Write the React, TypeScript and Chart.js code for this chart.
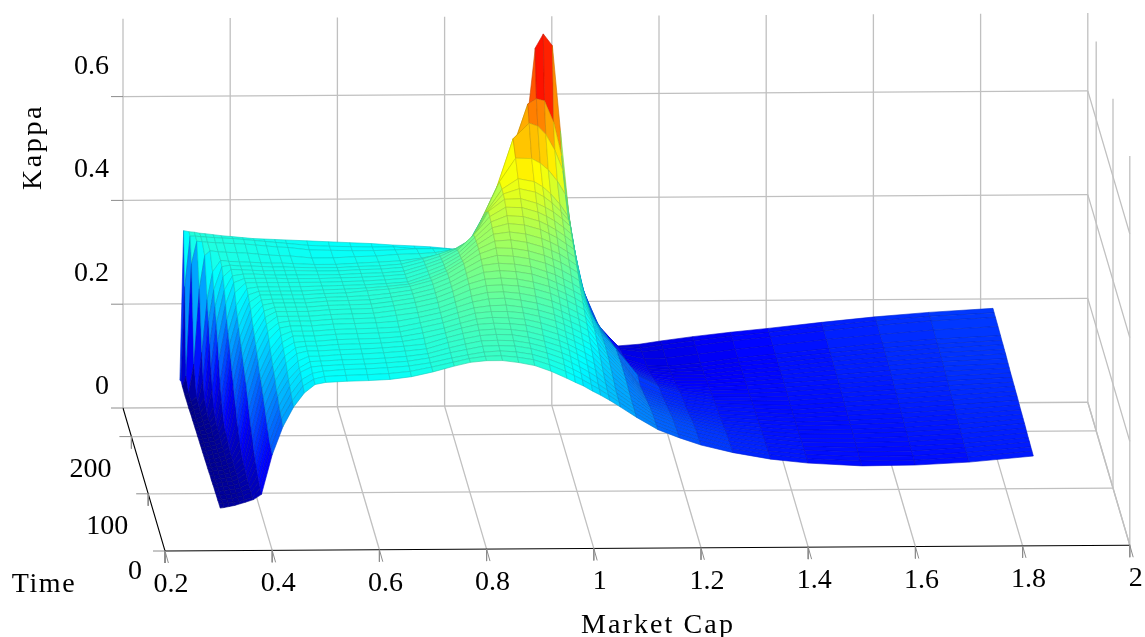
import React, { useEffect, useRef } from "react";
import { Chart, registerables } from "chart.js";

Chart.register(...registerables);

const marketCap = [0.303,0.31,0.32,0.33,0.34,0.35,0.365,0.38,0.4,0.42,0.44,0.46,0.48,0.5,0.54,0.58,0.62,0.66,0.7,0.74,0.77,0.8,0.83,0.86,0.89,0.92,0.95,0.966,0.981,0.998,1.013,1.03,1.05,1.08,1.12,1.16,1.2,1.26,1.33,1.4,1.5,1.6,1.7,1.82];
const timeRows = [0,7.5,15,22.5,30,37.5,45,52.5,60,67.5,75,82.5,90,97.5,105,112.5,120,127.5,135,142.5,150,157.5,165,172.5,180,187.5,195,210,225,233,240];

const kappaT0 = [.082,.083,.085,.087,.090,.093,.098,.108,.184,.238,.276,.303,.319,.323,.325,.326,.328,.333,.342,.353,.360,.363,.363,.359,.353,.342,.328,.320,.313,.303,.295,.285,.272,.252,.228,.212,.198,.183,.170,.162,.156,.157,.162,.173];
const kappaT7 = [.082,.083,.084,.085,.086,.089,.094,.112,.189,.245,.280,.308,.321,.326,.328,.329,.331,.335,.343,.352,.359,.363,.364,.361,.356,.346,.333,.325,.317,.307,.298,.287,.273,.252,.227,.211,.198,.182,.170,.162,.157,.158,.163,.174];
const kappaT15 = [.081,.082,.083,.084,.086,.089,.095,.116,.192,.248,.285,.312,.324,.328,.331,.332,.334,.337,.343,.352,.358,.363,.365,.363,.358,.349,.337,.329,.321,.310,.300,.288,.273,.252,.226,.210,.197,.181,.169,.162,.157,.158,.164,.174];
const kappaT22 = [.081,.082,.083,.084,.085,.089,.094,.120,.200,.253,.291,.318,.328,.330,.332,.333,.335,.338,.344,.354,.360,.366,.367,.366,.361,.352,.341,.333,.325,.315,.305,.291,.274,.252,.225,.209,.196,.180,.169,.162,.158,.159,.165,.175];
const kappaT30 = [.080,.081,.083,.084,.085,.088,.095,.128,.208,.263,.296,.318,.330,.331,.333,.334,.336,.339,.344,.355,.362,.368,.369,.368,.363,.355,.344,.337,.329,.319,.310,.293,.275,.252,.224,.208,.195,.179,.168,.161,.158,.160,.165,.175];
const kappaT37 = [.080,.081,.082,.083,.085,.088,.097,.135,.218,.266,.303,.323,.332,.332,.335,.336,.338,.341,.345,.357,.364,.370,.372,.371,.366,.358,.348,.341,.333,.323,.314,.297,.278,.253,.222,.206,.193,.178,.168,.161,.159,.161,.166,.176];
const kappaT45 = [.079,.080,.082,.083,.084,.088,.099,.143,.227,.277,.311,.329,.334,.334,.336,.337,.339,.342,.346,.358,.366,.372,.374,.373,.369,.361,.351,.344,.336,.327,.318,.300,.280,.253,.220,.204,.191,.176,.167,.160,.159,.162,.167,.177];
const kappaT52 = [.078,.079,.081,.082,.084,.088,.101,.155,.237,.284,.316,.332,.335,.335,.338,.339,.340,.343,.349,.359,.368,.375,.377,.376,.373,.365,.355,.348,.341,.332,.323,.304,.283,.254,.217,.201,.188,.174,.166,.160,.160,.163,.168,.178];
const kappaT60 = [.078,.079,.080,.082,.084,.088,.103,.165,.246,.290,.322,.334,.336,.336,.339,.340,.341,.344,.351,.360,.369,.377,.380,.379,.376,.369,.359,.352,.345,.336,.327,.307,.285,.255,.214,.198,.185,.172,.165,.159,.160,.163,.169,.178];
const kappaT67 = [.077,.079,.080,.081,.084,.088,.106,.176,.254,.298,.326,.338,.338,.338,.341,.342,.343,.345,.353,.362,.371,.380,.383,.383,.380,.373,.364,.357,.350,.341,.332,.311,.287,.255,.211,.195,.182,.170,.164,.159,.161,.164,.170,.179];
const kappaT75 = [.076,.078,.079,.080,.083,.088,.113,.189,.260,.305,.331,.339,.339,.339,.342,.343,.344,.346,.354,.363,.373,.382,.386,.387,.383,.377,.368,.361,.354,.346,.337,.314,.288,.255,.208,.192,.179,.168,.163,.158,.161,.165,.171,.179];
const kappaT82 = [.076,.077,.079,.080,.084,.089,.121,.203,.272,.315,.337,.341,.341,.341,.344,.345,.346,.349,.356,.365,.375,.385,.391,.392,.388,.382,.373,.366,.359,.351,.342,.318,.289,.255,.205,.189,.176,.166,.162,.158,.162,.166,.172,.180];
const kappaT90 = [.075,.077,.078,.080,.083,.090,.134,.218,.281,.322,.339,.342,.342,.342,.345,.346,.347,.352,.357,.366,.377,.388,.395,.396,.393,.387,.378,.371,.364,.355,.346,.322,.290,.255,.202,.186,.174,.165,.161,.157,.162,.167,.173,.181];
const kappaT97 = [.075,.076,.078,.080,.084,.092,.144,.228,.289,.328,.343,.343,.343,.343,.346,.347,.348,.353,.359,.368,.379,.392,.400,.401,.399,.393,.384,.377,.370,.361,.352,.322,.289,.254,.199,.183,.172,.164,.160,.157,.163,.168,.174,.182];
const kappaT105 = [.074,.076,.078,.079,.084,.096,.160,.239,.298,.333,.344,.344,.344,.344,.347,.348,.349,.354,.360,.369,.381,.395,.404,.406,.404,.398,.389,.382,.375,.366,.357,.322,.288,.252,.196,.180,.170,.162,.159,.157,.163,.169,.175,.182];
const kappaT112 = [.074,.075,.077,.079,.084,.098,.171,.249,.306,.337,.344,.344,.344,.344,.347,.348,.349,.354,.360,.370,.382,.397,.409,.412,.410,.405,.395,.388,.381,.372,.363,.322,.287,.251,.198,.179,.168,.160,.158,.158,.164,.170,.176,.183];
const kappaT120 = [.073,.075,.077,.079,.084,.099,.190,.260,.314,.340,.344,.344,.344,.344,.347,.348,.349,.354,.360,.370,.382,.399,.414,.418,.416,.411,.401,.395,.387,.378,.368,.322,.285,.250,.200,.178,.166,.158,.157,.158,.164,.170,.177,.183];
const kappaT127 = [.073,.074,.077,.079,.086,.106,.205,.270,.323,.342,.343,.343,.343,.343,.346,.347,.349,.353,.359,.370,.382,.400,.417,.425,.423,.418,.409,.402,.395,.385,.375,.319,.282,.244,.194,.173,.162,.156,.156,.159,.165,.171,.178,.184];
const kappaT135 = [.072,.074,.076,.079,.087,.118,.221,.281,.329,.343,.343,.343,.343,.343,.345,.346,.350,.353,.358,.369,.382,.401,.420,.431,.430,.425,.416,.409,.402,.392,.382,.315,.278,.238,.188,.168,.158,.154,.155,.159,.165,.172,.179,.184];
const kappaT142 = [.072,.074,.076,.080,.090,.136,.239,.293,.335,.342,.342,.342,.342,.342,.344,.345,.347,.350,.354,.366,.379,.398,.421,.436,.438,.433,.424,.417,.410,.399,.388,.312,.274,.234,.183,.164,.155,.152,.155,.159,.166,.173,.180,.185];
const kappaT150 = [.071,.073,.076,.081,.095,.158,.255,.306,.339,.342,.342,.342,.342,.342,.343,.344,.345,.347,.350,.364,.376,.395,.421,.441,.445,.441,.432,.425,.417,.406,.395,.310,.270,.230,.178,.160,.152,.150,.154,.159,.166,.174,.181,.186];
const kappaT157 = [.071,.073,.075,.081,.103,.193,.271,.323,.342,.342,.342,.342,.342,.342,.342,.343,.344,.346,.349,.362,.374,.392,.420,.445,.453,.450,.441,.433,.425,.413,.402,.312,.266,.225,.173,.155,.149,.148,.153,.158,.167,.175,.182,.187];
const kappaT165 = [.070,.073,.075,.084,.130,.220,.293,.334,.342,.342,.342,.342,.341,.341,.341,.342,.343,.345,.348,.361,.372,.389,.418,.448,.460,.458,.449,.441,.432,.420,.408,.315,.262,.220,.168,.151,.146,.146,.152,.158,.167,.175,.182,.188];
const kappaT172 = [.070,.072,.076,.089,.162,.247,.312,.339,.342,.342,.341,.340,.340,.340,.340,.340,.342,.343,.346,.358,.369,.386,.415,.450,.468,.467,.458,.450,.441,.428,.415,.317,.258,.215,.163,.147,.143,.144,.151,.157,.167,.175,.183,.188];
const kappaT180 = [.069,.072,.077,.096,.200,.272,.329,.343,.342,.341,.340,.340,.340,.340,.339,.339,.341,.342,.345,.356,.366,.380,.400,.452,.475,.476,.467,.459,.450,.436,.422,.320,.255,.210,.158,.143,.140,.143,.151,.157,.167,.176,.183,.189];
const kappaT187 = [.068,.071,.079,.123,.236,.296,.340,.343,.341,.341,.340,.339,.339,.338,.337,.337,.339,.340,.343,.353,.362,.372,.390,.443,.477,.487,.480,.471,.459,.442,.424,.325,.252,.202,.154,.139,.137,.142,.150,.157,.167,.176,.183,.189];
const kappaT195 = [.068,.072,.081,.167,.269,.322,.344,.342,.341,.340,.339,.338,.338,.337,.335,.335,.337,.339,.341,.346,.352,.360,.378,.434,.478,.498,.492,.482,.468,.448,.425,.330,.250,.195,.150,.136,.135,.141,.150,.157,.167,.177,.184,.190];
const kappaT210 = [.067,.072,.128,.273,.337,.346,.344,.343,.342,.341,.339,.337,.336,.335,.331,.331,.333,.334,.337,.338,.340,.345,.352,.410,.476,.521,.520,.511,.498,.476,.450,.340,.250,.185,.142,.133,.134,.141,.150,.157,.168,.177,.185,.191];
const kappaT225 = [.068,.088,.305,.348,.347,.346,.345,.344,.343,.342,.340,.338,.336,.335,.330,.329,.328,.328,.329,.331,.331,.330,.330,.385,.450,.542,.572,.566,.550,.519,.480,.350,.250,.180,.135,.130,.134,.141,.150,.157,.168,.178,.186,.192];
const kappaT233 = [.070,.252,.349,.349,.348,.347,.346,.345,.344,.342,.340,.338,.336,.334,.330,.328,.327,.326,.326,.322,.320,.318,.318,.365,.425,.510,.600,.610,.606,.565,.500,.355,.250,.170,.130,.128,.134,.142,.150,.157,.168,.178,.186,.192];
const kappaT240 = [.064,.352,.350,.349,.347,.346,.344,.342,.340,.338,.336,.335,.334,.333,.331,.329,.327,.325,.322,.320,.318,.315,.310,.345,.400,.470,.550,.700,.727,.704,.540,.367,.250,.165,.125,.128,.134,.142,.150,.157,.168,.178,.186,.193];

const kappaGrid = [kappaT0,kappaT7,kappaT15,kappaT22,kappaT30,kappaT37,kappaT45,kappaT52,kappaT60,kappaT67,kappaT75,kappaT82,kappaT90,kappaT97,kappaT105,kappaT112,kappaT120,kappaT127,kappaT135,kappaT142,kappaT150,kappaT157,kappaT165,kappaT172,kappaT180,kappaT187,kappaT195,kappaT210,kappaT225,kappaT233,kappaT240];

const xTicks = [0.2,0.4,0.6,0.8,1,1.2,1.4,1.6,1.8,2];
const xTickLabels = ["0.2","0.4","0.6","0.8","1","1.2","1.4","1.6","1.8","2"];
const timeTicks = [0,100,200];
const timeTickLabels = ["0","100","200"];
const kappaTicks = [0,0.2,0.4,0.6];
const kappaTickLabels = ["0","0.2","0.4","0.6"];

const X_MIN = 0.2, X_MAX = 2, T_MAX = 250, Z_MAX = 0.75;
const KAPPA_MIN = 0.064, KAPPA_MAX = 0.76;

// Orthographic view of the (market cap, time, kappa) box on the chart's two linear scales.
function project(x: number, t: number, z: number) {
  return {
    x: 165 + (x - X_MIN) * 536 - t * 0.168,
    y: 551 - (x - X_MIN) * 3.2 - t * 0.572 - z * 519,
  };
}

function jet(v: number) {
  const p = Math.max(0, Math.min(0.9999, v)) * 8;
  const stops = [[0,0,128],[0,0,255],[0,128,255],[0,255,255],[128,255,128],[255,255,0],[255,128,0],[255,0,0],[128,0,0]];
  const i = Math.floor(p), f = p - i;
  return stops[i].map((c, k) => c + (stops[i + 1][k] - c) * f);
}

function lineSet(points: {x:number;y:number}[], color: string, width: number) {
  return {
    type: "scatter" as const,
    data: points,
    showLine: true,
    fill: false,
    borderColor: color,
    borderWidth: width,
    pointRadius: 0,
    tension: 0,
  };
}

function buildDatasets() {
  const painter: any[] = [];
  const GRID = "#c0c0c0";
  const TICK = "#8c8c8c";
  const AXIS = "#000000";
  const W = 1.3;
  // back wall
  for (const x of xTicks) painter.push(lineSet([project(x, T_MAX, 0), project(x, T_MAX, Z_MAX)], GRID, W));
  for (const z of kappaTicks) painter.push(lineSet([project(X_MIN, T_MAX, z), project(X_MAX, T_MAX, z)], GRID, W));
  // floor
  for (const x of xTicks.slice(1)) painter.push(lineSet([project(x, 0, 0), project(x, T_MAX, 0)], GRID, W));
  for (const t of timeTicks.slice(1)) painter.push(lineSet([project(X_MIN, t, 0), project(X_MAX, t, 0)], GRID, W));
  // right wall
  for (const t of timeTicks) painter.push(lineSet([project(X_MAX, t, 0), project(X_MAX, t, Z_MAX)], GRID, W));
  for (const z of kappaTicks) painter.push(lineSet([project(X_MAX, 0, z), project(X_MAX, T_MAX, z)], GRID, W));
  // axis lines
  painter.push(lineSet([project(X_MIN, T_MAX, 0), project(X_MIN, 0, 0), project(X_MAX, 0, 0)], AXIS, 1.1));
  // tick marks
  const tickVec = 12;
  for (const x of xTicks) {
    const p = project(x, 0, 0);
    painter.push(lineSet([p, { x: p.x + 3.4, y: p.y + tickVec }], TICK, 1));
    painter.push(lineSet([p, { x: p.x, y: p.y + tickVec }], TICK, 1));
  }
  for (const t of timeTicks) {
    const p = project(X_MIN, t, 0);
    painter.push(lineSet([p, { x: p.x - tickVec, y: p.y }], TICK, 1));
    painter.push(lineSet([p, { x: p.x, y: p.y + tickVec }], TICK, 1));
  }
  for (const z of kappaTicks) {
    const p = project(X_MIN, T_MAX, z);
    painter.push(lineSet([p, { x: p.x - tickVec, y: p.y }], TICK, 1));
  }
  // surface, far rows first, low market cap first
  for (let r = timeRows.length - 1; r > 0; r--) {
    for (let c = 0; c < marketCap.length - 1; c++) {
      const a = kappaGrid[r][c], b = kappaGrid[r][c + 1], d = kappaGrid[r - 1][c + 1], e = kappaGrid[r - 1][c];
      const v = ((a + b + d + e) / 4 - KAPPA_MIN) / (KAPPA_MAX - KAPPA_MIN);
      const rgb = jet(v).map(Math.round);
      const edge = rgb.map((n) => Math.round(n * 0.8));
      const pa = project(marketCap[c], timeRows[r], a);
      painter.push({
        type: "scatter" as const,
        data: [
          pa,
          project(marketCap[c + 1], timeRows[r], b),
          project(marketCap[c + 1], timeRows[r - 1], d),
          project(marketCap[c], timeRows[r - 1], e),
          pa,
        ],
        showLine: true,
        fill: "shape",
        backgroundColor: `rgb(${rgb.join(",")})`,
        borderColor: `rgb(${edge.join(",")})`,
        borderWidth: 0.6,
        borderJoinStyle: "round",
        pointRadius: 0,
        tension: 0,
      });
    }
  }
  // Chart.js paints the first dataset last.
  return painter.reverse();
}

const FONT = '28px "Liberation Serif", serif';

const labelPlugin = {
  id: "boxLabels",
  afterDraw(chart: any) {
    const ctx = chart.ctx;
    const sx = chart.scales.x, sy = chart.scales.y;
    const put = (text: string, px: number, py: number, align: CanvasTextAlign, spacing = "0px", rot = 0) => {
      ctx.save();
      ctx.translate(sx.getPixelForValue(px), sy.getPixelForValue(py));
      ctx.rotate(rot);
      ctx.font = FONT;
      ctx.fillStyle = "#000";
      ctx.textAlign = align;
      ctx.textBaseline = "alphabetic";
      (ctx as any).letterSpacing = spacing;
      ctx.fillText(text, 0, 0);
      ctx.restore();
    };
    xTicks.forEach((x, i) => {
      const p = project(x, 0, 0);
      put(xTickLabels[i], p.x + 6, p.y + 41, "center");
    });
    timeTicks.forEach((t, i) => {
      const p = project(X_MIN, t, 0);
      put(timeTickLabels[i], p.x - (i === 0 ? 23 : 20), p.y + (i === 0 ? 28 : 40), "right");
    });
    kappaTicks.forEach((z, i) => {
      const p = project(X_MIN, T_MAX, z);
      put(kappaTickLabels[i], 109, p.y + (i === 0 ? -14 : -23), "right");
    });
    put("Market Cap", 658, 633, "center", "2.1px");
    put("Time", 44, 592, "center", "1.6px");
    put("Kappa", 41, 147, "center", "2.6px", -Math.PI / 2);
  },
};

export default function App() {
  const ref = useRef<HTMLCanvasElement>(null);
  useEffect(() => {
    document.body.style.margin = "0";
    document.body.style.background = "#fff";
    const chart = new Chart(ref.current!, {
      type: "scatter",
      data: { datasets: buildDatasets() as any },
      options: {
        responsive: false,
        animation: false,
        events: [],
        layout: { padding: 0 },
        plugins: { legend: { display: false }, tooltip: { enabled: false }, title: { display: false } },
        scales: {
          x: { type: "linear", min: 0, max: 1145, display: false },
          y: { type: "linear", min: 0, max: 637, reverse: true, display: false },
        },
      },
      plugins: [labelPlugin],
    } as any);
    return () => chart.destroy();
  }, []);
  return <canvas ref={ref} width={1145} height={637} style={{ display: "block" }} />;
}
